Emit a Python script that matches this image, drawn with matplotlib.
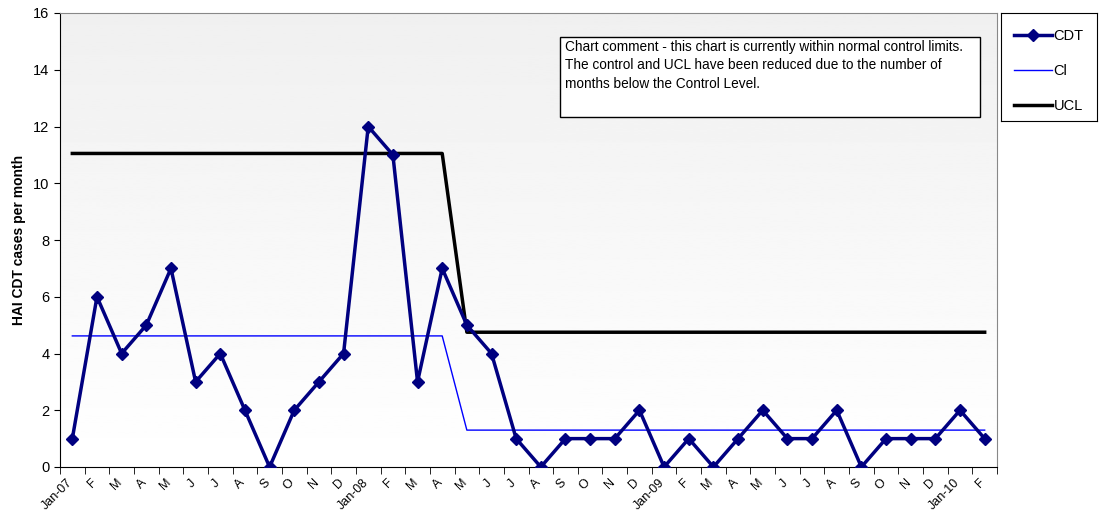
import numpy as np
import matplotlib
matplotlib.use("Agg")
import matplotlib.pyplot as plt
import matplotlib.transforms as mtransforms
from matplotlib.patches import Rectangle
from matplotlib.lines import Line2D

plt.rcParams['font.family'] = ['Liberation Sans', 'DejaVu Sans']

months = ["Jan-07", "F", "M", "A", "M", "J", "J", "A", "S", "O", "N", "D",
          "Jan-08", "F", "M", "A", "M", "J", "J", "A", "S", "O", "N", "D",
          "Jan-09", "F", "M", "A", "M", "J", "J", "A", "S", "O", "N", "D",
          "Jan-10", "F"]
cdt = [1, 6, 4, 5, 7, 3, 4, 2, 0, 2, 3, 4,
       12, 11, 3, 7, 5, 4, 1, 0, 1, 1, 1, 2,
       0, 1, 0, 1, 2, 1, 1, 2, 0, 1, 1, 1,
       2, 1]
cl = [4.62] * 16 + [1.3] * 22
ucl = [11.05] * 16 + [4.75] * 22

comment = ("Chart comment - this chart is currently within normal control limits.\n"
           "The control and UCL have been reduced due to the number of\n"
           "months below the Control Level.")

fig = plt.figure(figsize=(10.99, 5.16), dpi=100)
ax = fig.add_axes([60 / 1099, 49 / 516, 937 / 1099, 454 / 516])

x = np.arange(len(months))

# gray-to-white gradient background
grad = np.linspace(0.94, 1.0, 256).reshape(-1, 1)
ax.imshow(grad, cmap="gray", vmin=0, vmax=1, aspect="auto",
          extent=[0, 1, 0, 1], transform=ax.transAxes, zorder=0)

ax.plot(x, ucl, color="black", lw=2.5, zorder=3)
ax.plot(x, cl, color="#0000ff", lw=1, zorder=3)
ax.plot(x, cdt, color="#000080", lw=2.5, marker="D", ms=6.5, zorder=4)

ax.set_xlim(-0.5, len(months) - 0.5)
ax.set_ylim(0, 16)
ax.set_yticks(range(0, 17, 2))
ax.tick_params(axis="y", labelsize=10.5, length=4, direction="out")

ax.set_xticks(x)
ax.set_xticklabels(months, rotation=45, ha="right", rotation_mode="anchor", fontsize=9)
ax.set_xticks(np.arange(-0.5, len(months), 1), minor=True)
ax.tick_params(axis="x", which="major", length=0, pad=7)
ax.tick_params(axis="x", which="minor", length=5, direction="out")
shift = mtransforms.ScaledTranslation(-6 / 100, 0, fig.dpi_scale_trans)
for lab in ax.get_xticklabels():
    lab.set_transform(lab.get_transform() + shift)

ax.set_ylabel("HAI CDT cases per month", fontsize=10, fontweight="bold", labelpad=5)

ax.spines["top"].set_color("#888888")
ax.spines["right"].set_color("#888888")
ax.spines["left"].set_color("black")
ax.spines["bottom"].set_color("black")

# comment box
ax.add_patch(Rectangle((0.534, 0.771), 0.448, 0.176, transform=ax.transAxes,
                       facecolor="white", edgecolor="black", lw=1, zorder=5))
ax.text(0.539, 0.941, comment, transform=ax.transAxes, fontsize=9.8,
        va="top", ha="left", linespacing=1.42, zorder=6)

# legend outside on the right
leg_ax = fig.add_axes([1001 / 1099, (516 - 121) / 516, 96 / 1099, 108 / 516])
leg_ax.set_xticks([])
leg_ax.set_yticks([])
for s in leg_ax.spines.values():
    s.set_color("black")
handles = [Line2D([], [], color="#000080", lw=2.5, marker="D", ms=6.5),
           Line2D([], [], color="#0000ff", lw=1),
           Line2D([], [], color="black", lw=2.5)]
leg_ax.legend(handles, ["CDT", "Cl", "UCL"], loc="center", bbox_to_anchor=(0.5, 0.46),
              frameon=False, fontsize=10.5, handlelength=2.6, handletextpad=0.1,
              labelspacing=1.45, borderaxespad=0)

fig.savefig("out.png", dpi=100)
